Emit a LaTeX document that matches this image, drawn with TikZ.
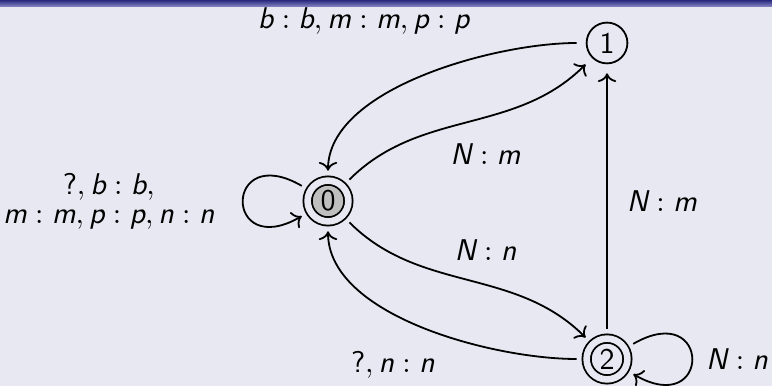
\documentclass[tikz,border=0pt]{standalone}
\usepackage{xcolor}
\usepackage{tikz}
\usetikzlibrary{arrows.meta, positioning, calc}

\definecolor{slidebg}{RGB}{232,232,243}
\definecolor{bartop}{RGB}{40,40,125}
\definecolor{barbot}{RGB}{140,140,200}

\newcommand{\sy}[1]{\textsf{\itshape #1}}

\tikzstyle{statenode} = [circle, draw=black, minimum size=13.6pt, inner sep=0pt, font=\sffamily]
\tikzstyle{accept}    = [double=slidebg, double distance=2.2pt]
\tikzstyle{arrow}     = [->, shorten >=3pt, shorten <=3pt]

\begin{document}
\begin{tikzpicture}[x=0.3333pt, y=0.3333pt, line width=0.6pt]

% frame background and title bar
\fill[slidebg] (0,0) rectangle (772,386);
\shade[top color=bartop, bottom color=barbot] (0,379) rectangle (772,386);
\useasboundingbox (0,0) rectangle (772,386);

\node (q0) [statenode, accept, fill=gray!50] at (328,185) {0};
\node (q1) [statenode] at (607,343) {1};
\node (q2) [statenode, accept] at (607,27) {2};

% transitions between states
\draw [arrow] (q0) to[out=45, in=225] node[below=3.7pt, xshift=6pt] {$\sy{N}:\sy{m}$} (q1);
\draw [arrow] (q1) to[out=180, in=90, looseness=0.8] node[above=10.7pt, xshift=-19.7pt] {$\sy{b}:\sy{b},\sy{m}:\sy{m},\sy{p}:\sy{p}$} (q0);
\draw [arrow] (q0) to[out=-45, in=135] node[above=3pt, xshift=6pt] {$\sy{N}:\sy{n}$} (q2);
\draw [arrow] (q2) to[out=180, in=-90, looseness=0.82] node[below=5pt, xshift=-9.7pt] {$\textsf{?},\sy{n}:\sy{n}$} (q0);
\draw [arrow] (q2) -- node[right=3pt] {$\sy{N}:\sy{m}$} (q1);

% self loops
\draw [arrow] (q0) to[out=150, in=210, looseness=12] node[left=6.5pt, align=center] {$\textsf{?},\sy{b}:\sy{b},$\\[-2.3pt]$\sy{m}:\sy{m},\sy{p}:\sy{p},\sy{n}:\sy{n}$} (q0);
\draw [arrow] (q2) to[out=30, in=-30, looseness=12] node[right=1.7pt] {$\sy{N}:\sy{n}$} (q2);

\end{tikzpicture}
\end{document}
